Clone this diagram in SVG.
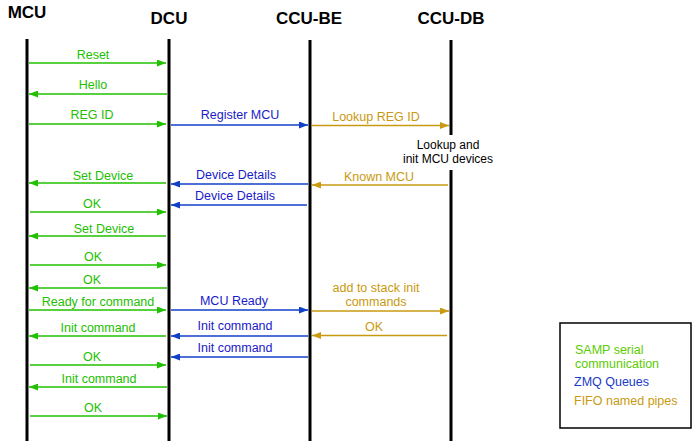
<svg xmlns="http://www.w3.org/2000/svg" width="694" height="444" viewBox="0 0 694 444">
<defs>
<style>
text{font-family:"Liberation Sans",Arial,sans-serif;font-size:12.5px;text-anchor:middle}
.h{font-size:17px;font-weight:bold;fill:#000}
.life{stroke:#000;stroke-width:3}
.g{stroke:#22c000;stroke-width:1.6;fill:none}
.b{stroke:#1040c8;stroke-width:1.6;fill:none}
.o{stroke:#c89a10;stroke-width:1.6;fill:none}
.tg{fill:#22c000}
.tb{fill:#1a1ac8}
.to{fill:#c89a10}
.tk{fill:#000}
</style>
<marker id="ag" markerWidth="9" markerHeight="7" refX="9" refY="3.5" orient="auto" markerUnits="userSpaceOnUse"><path d="M0,0 L9,3.5 L0,7 z" fill="#22c000"/></marker>
<marker id="ab" markerWidth="9" markerHeight="7" refX="9" refY="3.5" orient="auto" markerUnits="userSpaceOnUse"><path d="M0,0 L9,3.5 L0,7 z" fill="#1040c8"/></marker>
<marker id="ao" markerWidth="9" markerHeight="7" refX="9" refY="3.5" orient="auto" markerUnits="userSpaceOnUse"><path d="M0,0 L9,3.5 L0,7 z" fill="#c89a10"/></marker>
</defs>
<rect width="694" height="444" fill="#fff"/>
<g id="MCU"><text class="h" x="27" y="18">MCU</text><line class="life" x1="27" y1="39" x2="27" y2="441"/></g>
<g id="DCU"><text class="h" x="169" y="24">DCU</text><line class="life" x1="169" y1="39" x2="169" y2="441"/></g>
<g id="CCU-BE"><text class="h" x="309" y="24">CCU-BE</text><line class="life" x1="310" y1="40" x2="310" y2="441"/></g>
<g id="CCU-DB"><text class="h" x="451" y="24">CCU-DB</text><line class="life" x1="451" y1="40" x2="451" y2="135"/><line class="life" x1="451" y1="170" x2="451" y2="441"/>
<text class="tk" x="448" y="149" style="font-size:12px">Lookup and</text><text class="tk" x="448" y="163" style="font-size:12px">init MCU devices</text></g>
<g id="connectors">
<line class="g" x1="29" y1="63" x2="166" y2="63" marker-end="url(#ag)"/><text class="tg" x="93" y="59">Reset</text>
<line class="g" x1="167" y1="94" x2="29" y2="94" marker-end="url(#ag)"/><text class="tg" x="93" y="89">Hello</text>
<line class="g" x1="29" y1="124" x2="166" y2="124" marker-end="url(#ag)"/><text class="tg" x="92" y="119">REG ID</text>
<line class="b" x1="171" y1="125" x2="308" y2="125" marker-end="url(#ab)"/><text class="tb" x="240" y="119">Register MCU</text>
<line class="o" x1="312" y1="125.5" x2="449" y2="125.5" marker-end="url(#ao)"/><text class="to" x="376" y="121">Lookup REG ID</text>
<line class="o" x1="448" y1="185" x2="312" y2="185" marker-end="url(#ao)"/><text class="to" x="379" y="181">Known MCU</text>
<line class="b" x1="308" y1="184" x2="171" y2="184" marker-end="url(#ab)"/><text class="tb" x="236" y="179">Device Details</text>
<line class="g" x1="166" y1="183" x2="29" y2="183" marker-end="url(#ag)"/><text class="tg" x="103" y="180">Set Device</text>
<line class="b" x1="307" y1="205" x2="171" y2="205" marker-end="url(#ab)"/><text class="tb" x="235" y="200">Device Details</text>
<line class="g" x1="30" y1="212" x2="166" y2="212" marker-end="url(#ag)"/><text class="tg" x="92" y="208">OK</text>
<line class="g" x1="166" y1="236" x2="29" y2="236" marker-end="url(#ag)"/><text class="tg" x="104" y="233">Set Device</text>
<line class="g" x1="30" y1="265" x2="166" y2="265" marker-end="url(#ag)"/><text class="tg" x="93" y="261">OK</text>
<line class="g" x1="167" y1="288" x2="29" y2="288" marker-end="url(#ag)"/><text class="tg" x="92" y="284">OK</text>
<line class="g" x1="29" y1="310" x2="166" y2="310" marker-end="url(#ag)"/><text class="tg" x="98" y="306">Ready for command</text>
<line class="b" x1="171" y1="310" x2="308" y2="310" marker-end="url(#ab)"/><text class="tb" x="234" y="305">MCU Ready</text>
<line class="o" x1="312" y1="311" x2="449" y2="311" marker-end="url(#ao)"/><text class="to" x="376" y="292">add to stack init</text><text class="to" x="376" y="306">commands</text>
<line class="g" x1="166" y1="336" x2="29" y2="336" marker-end="url(#ag)"/><text class="tg" x="98" y="332">Init command</text>
<line class="b" x1="308" y1="336" x2="171" y2="336" marker-end="url(#ab)"/><text class="tb" x="235" y="330">Init command</text>
<line class="o" x1="447" y1="335.5" x2="312" y2="335.5" marker-end="url(#ao)"/><text class="to" x="374" y="331">OK</text>
<line class="b" x1="308" y1="357" x2="171" y2="357" marker-end="url(#ab)"/><text class="tb" x="235" y="352">Init command</text>
<line class="g" x1="30" y1="365" x2="166" y2="365" marker-end="url(#ag)"/><text class="tg" x="92" y="361">OK</text>
<line class="g" x1="167" y1="387" x2="29" y2="387" marker-end="url(#ag)"/><text class="tg" x="99" y="383">Init command</text>
<line class="g" x1="30" y1="416" x2="167" y2="416" marker-end="url(#ag)"/><text class="tg" x="93" y="412">OK</text>
</g>
<g id="legend">
<rect x="560" y="323" width="131" height="105" fill="#fff" stroke="#000" stroke-width="1.5"/>
<text x="575" y="354" style="text-anchor:start;fill:#5ccc00">SAMP serial</text>
<text x="575" y="368" style="text-anchor:start;fill:#5ccc00">communication</text>
<text x="574" y="386" style="text-anchor:start;fill:#1a3ac8">ZMQ Queues</text>
<text x="574" y="405" style="text-anchor:start;fill:#c89a10">FIFO named pipes</text>
</g>
</svg>
